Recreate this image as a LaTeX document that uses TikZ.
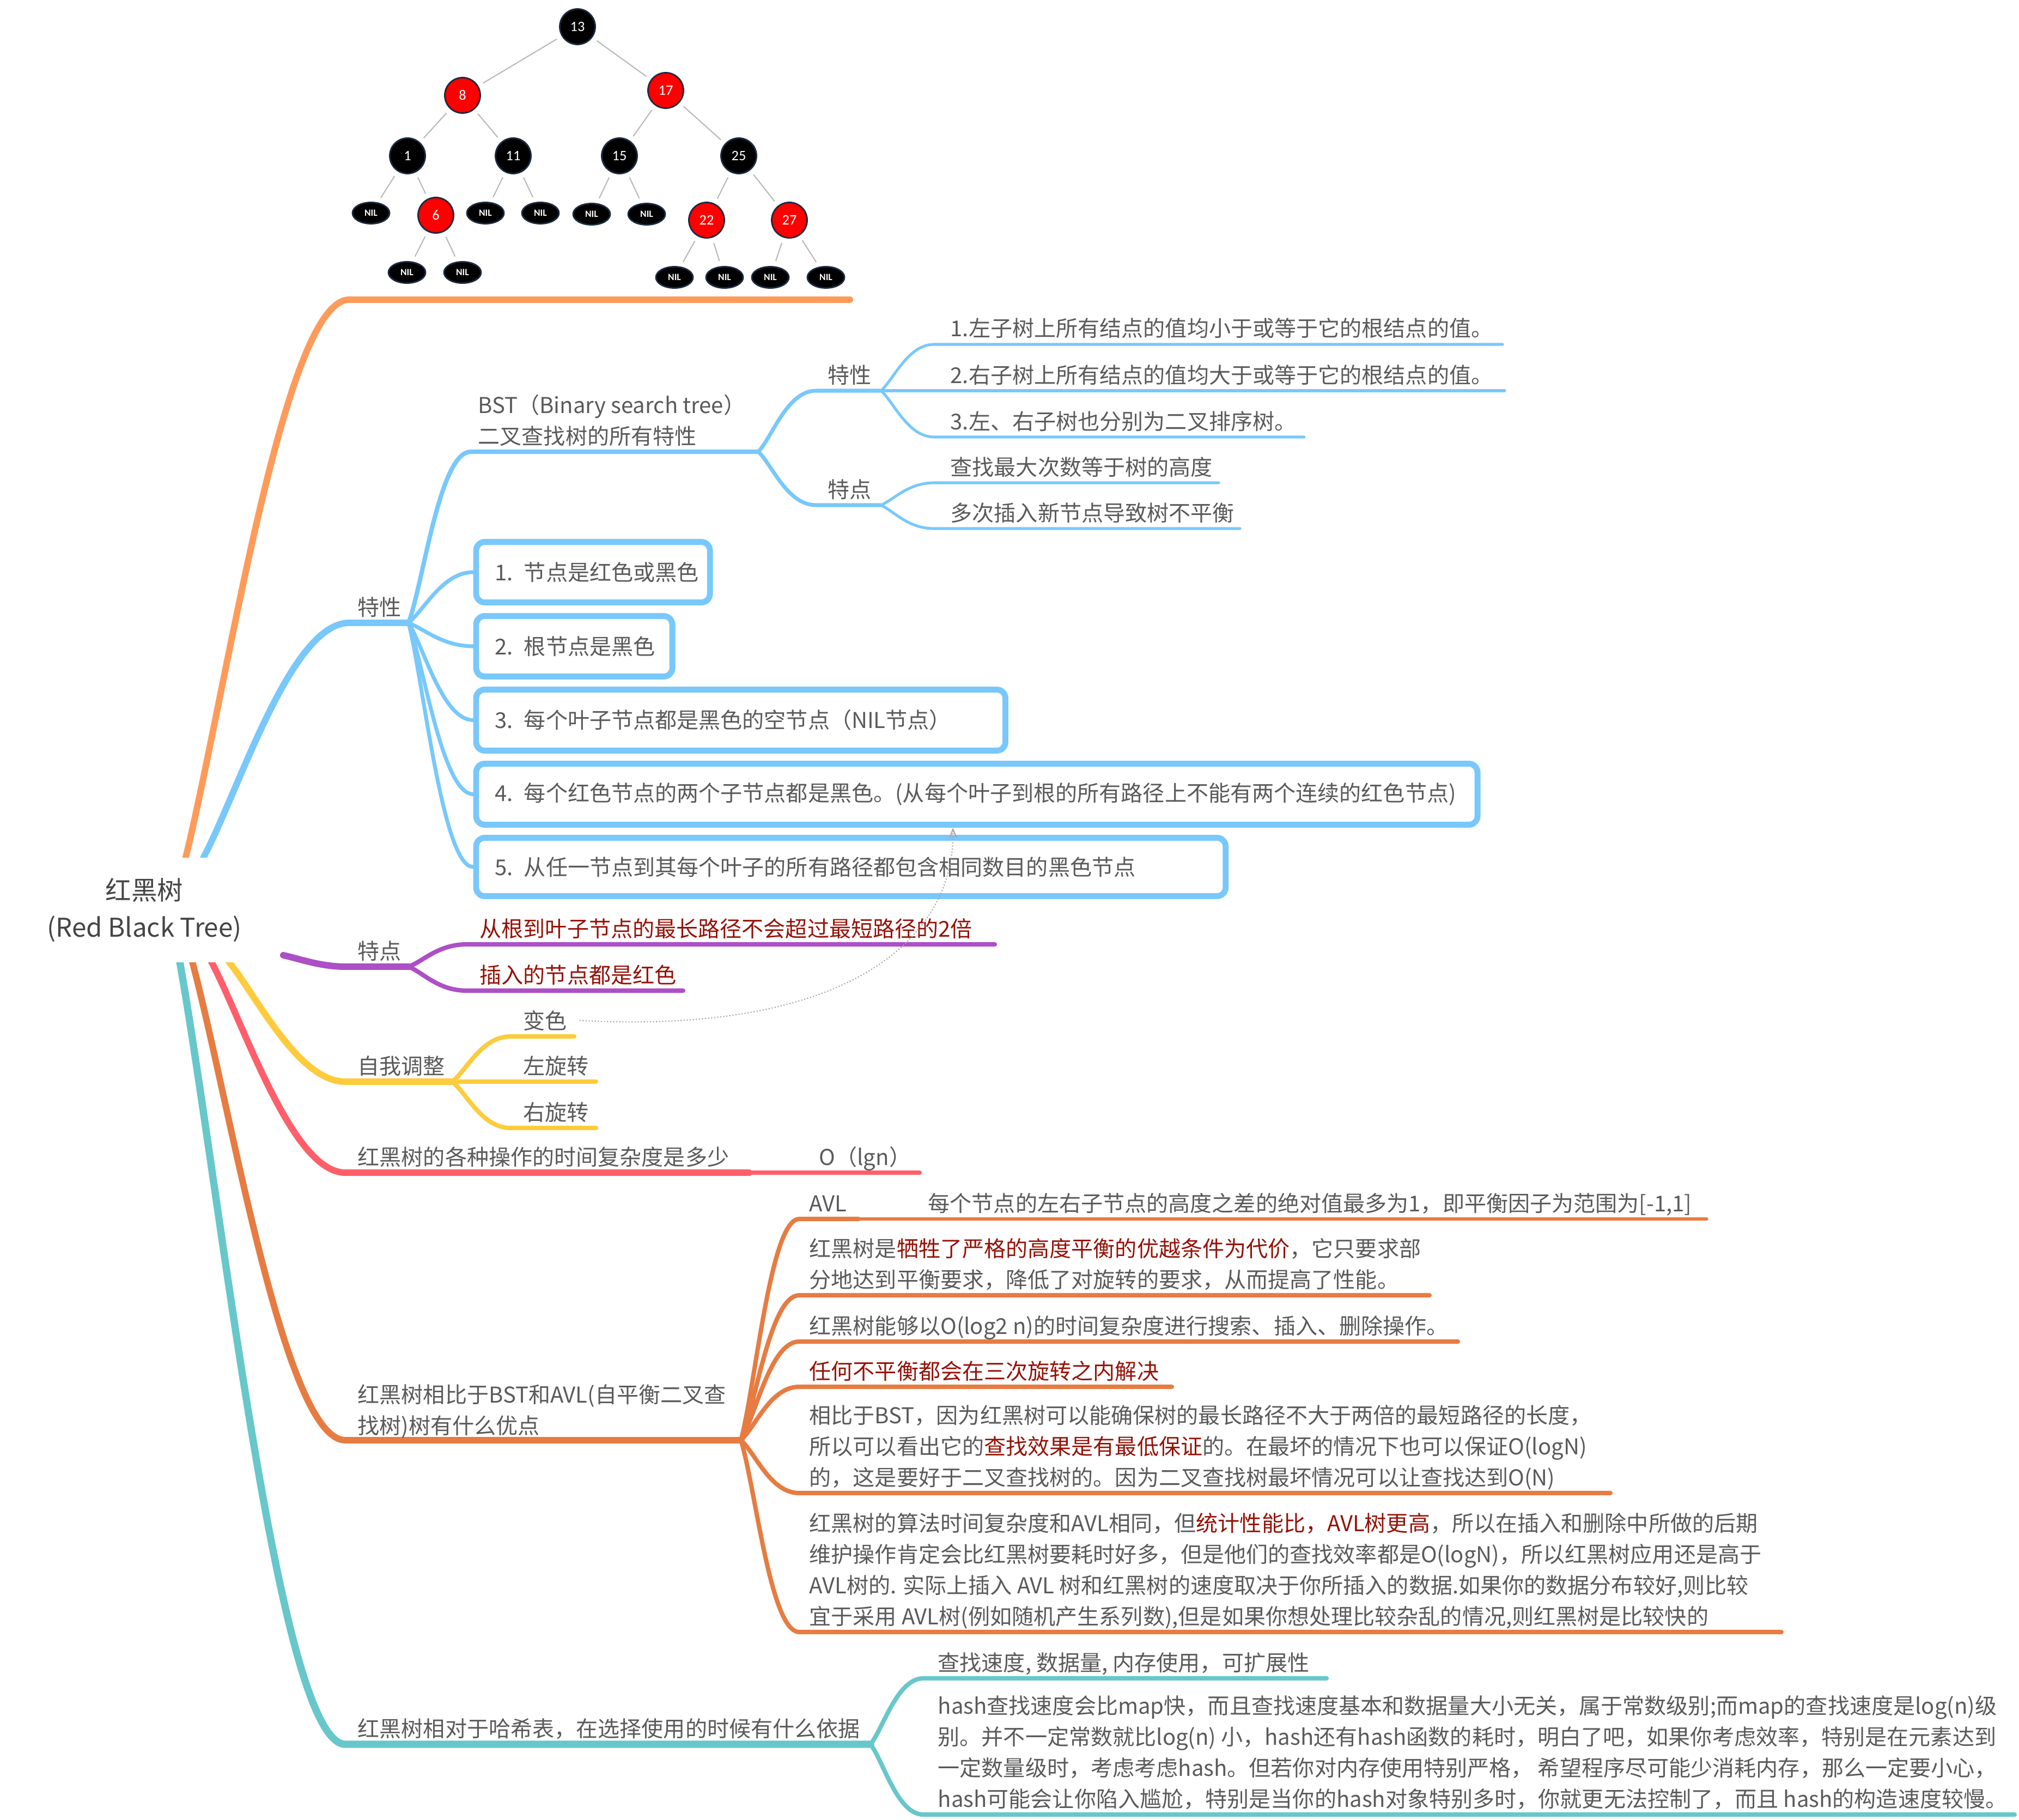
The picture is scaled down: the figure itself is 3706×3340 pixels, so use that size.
\documentclass[tikz,border=0pt]{standalone}
\usepackage{fontspec}
\newfontfamily\cjk{Noto Sans CJK SC}
\newfontfamily\treefont{Carlito}
\usetikzlibrary{shapes.geometric,arrows.meta}
\definecolor{txtgray}{HTML}{5A5A5A}
\definecolor{roottxt}{HTML}{454545}
\definecolor{redtxt}{HTML}{941208}
\definecolor{cOrange}{HTML}{FF9B5A}
\definecolor{cBlue}{HTML}{78C8FC}
\definecolor{cPurple}{HTML}{AD4FC6}
\definecolor{cYellow}{HTML}{FECB3C}
\definecolor{cRed}{HTML}{FF5F6A}
\definecolor{cDorange}{HTML}{E67C42}
\definecolor{cTeal}{HTML}{67C7CB}
\definecolor{nodeRed}{HTML}{FF0000}
\definecolor{rim}{HTML}{1C2A40}
\tikzset{
  txt/.style={font=\cjk\fontsize{11.4pt}{16pt}\selectfont, text=txtgray, inner sep=0pt, anchor=base west, yshift=-0.04cm},
  rtxt/.style={txt, text=redtxt},
  br1/.style={line width=3.4pt, line cap=round},
  br2/.style={line width=2.3pt, line cap=round},
  brm/.style={line width=2.0pt, line cap=round},
  br3/.style={line width=1.45pt, line cap=round},
  pbox/.style={draw=cBlue, line width=3.1pt, rounded corners=0.16cm, fill=white, anchor=west,
     inner xsep=0.345cm, inner ysep=0pt, align=left, text=txtgray,
     font=\cjk\fontsize{11.4pt}{16pt}\selectfont},
  rootnode/.style={fill=white, inner sep=0pt, align=center, text=roottxt,
     font=\cjk\fontsize{13.5pt}{19.3pt}\selectfont},
  tnode/.style={circle, fill=black, draw=rim, line width=0.8pt, minimum size=0.65cm, inner sep=0pt,
     text=white, font=\treefont\fontsize{7.5pt}{8pt}\selectfont},
  rnode/.style={tnode, fill=nodeRed},
  nilnode/.style={ellipse, fill=black, draw=rim, line width=0.8pt, minimum width=0.68cm,
     minimum height=0.39cm, inner sep=0pt, text=white, font=\treefont\bfseries\fontsize{5pt}{5pt}\selectfont},
  tedge/.style={draw=gray!55, line width=0.6pt, shorten <=0.1cm, shorten >=0.1cm},
  hint/.style={draw=gray!70, line width=0.6pt, densely dotted, -{Straight Barb[length=0.16cm,width=0.13cm]}},
}
\begin{document}
\begin{tikzpicture}[x=0.01cm, y=-0.01cm]
\useasboundingbox (0,0) rectangle (3706,3340);

% ---------------- tree picture ----------------
\node[tnode] (n13) at (1060,49) {13};
\node[rnode] (n8) at (849,175) {8};
\node[rnode] (n17) at (1222,166) {17};
\node[tnode] (n1) at (748,286) {1};
\node[tnode] (n11) at (942,286) {11};
\node[tnode] (n15) at (1137,286) {15};
\node[tnode] (n25) at (1356,286) {25};
\node[nilnode] (l1) at (681,391) {NIL};
\node[rnode] (n6) at (800,395) {6};
\node[nilnode] (l2) at (891,391) {NIL};
\node[nilnode] (l3) at (992,391) {NIL};
\node[nilnode] (l4) at (1086,393) {NIL};
\node[nilnode] (l5) at (1187,393) {NIL};
\node[rnode] (n22) at (1297,404) {22};
\node[rnode] (n27) at (1449,404) {27};
\node[nilnode] (l6) at (747,500) {NIL};
\node[nilnode] (l7) at (849,500) {NIL};
\node[nilnode] (l8) at (1238,509) {NIL};
\node[nilnode] (l9) at (1330,509) {NIL};
\node[nilnode] (l10) at (1414,509) {NIL};
\node[nilnode] (l11) at (1516,509) {NIL};
\draw[tedge] (n13) -- (n8);
\draw[tedge] (n13) -- (n17);
\draw[tedge] (n8) -- (n1);
\draw[tedge] (n8) -- (n11);
\draw[tedge] (n17) -- (n15);
\draw[tedge] (n17) -- (n25);
\draw[tedge] (n1) -- (l1);
\draw[tedge] (n1) -- (n6);
\draw[tedge] (n11) -- (l2);
\draw[tedge] (n11) -- (l3);
\draw[tedge] (n15) -- (l4);
\draw[tedge] (n15) -- (l5);
\draw[tedge] (n25) -- (n22);
\draw[tedge] (n25) -- (n27);
\draw[tedge] (n6) -- (l6);
\draw[tedge] (n6) -- (l7);
\draw[tedge] (n22) -- (l8);
\draw[tedge] (n22) -- (l9);
\draw[tedge] (n27) -- (l10);
\draw[tedge] (n27) -- (l11);

% ---------------- main branches ----------------
\coordinate (oS) at (330,1619); \coordinate (oA) at (341,1573); \coordinate (oC) at (641,550); \coordinate (oE) at (1560,550);
\draw[br1, cOrange] (oS) -- (oA) .. controls (416,1266) and (521,550) .. (oC) -- (oE);

\coordinate (bS) at (355,1610); \coordinate (bA) at (375,1571); \coordinate (bC) at (641,1143); \coordinate (bE) at (750,1143);
\draw[br1, cBlue] (bS) -- (bA) .. controls (441,1443) and (535,1143) .. (bC) -- (bE);

\coordinate (pA) at (520,1753); \coordinate (pC) at (634,1774); \coordinate (pE) at (750,1774);
\draw[br1, cPurple] (pA) .. controls (548,1759) and (588,1774) .. (pC) -- (pE);

\coordinate (yS) at (388,1725); \coordinate (yA) at (420,1765); \coordinate (yC) at (634,1985); \coordinate (yE) at (830,1985);
\draw[br1, cYellow] (yS) -- (yA) .. controls (473,1831) and (548,1985) .. (yC) -- (yE);

\coordinate (rS) at (366,1724); \coordinate (rA) at (388,1765); \coordinate (rC) at (634,2152); \coordinate (rE) at (1375,2152);
\draw[br1, cRed] (rS) -- (rA) .. controls (449,1881) and (536,2152) .. (rC) -- (rE);

\coordinate (dS) at (342,1726); \coordinate (dA) at (353,1765); \coordinate (dC) at (634,2643); \coordinate (dE) at (1360,2643);
\draw[br1, cDorange] (dS) -- (dA) .. controls (423,2028) and (522,2643) .. (dC) -- (dE);

\coordinate (tS) at (322,1722); \coordinate (tA) at (330,1765); \coordinate (tC) at (634,3201); \coordinate (tE) at (1598,3201);
\draw[line width=3.8pt, line cap=round, cTeal] (tS) -- (tA) .. controls (406,2196) and (512,3201) .. (tC) -- (tE);

% root
\node[rootnode, minimum width=4.2cm, minimum height=1.92cm] (root) at (265,1670) {红黑树\\(Red Black Tree)};

% ---------------- blue: 特性 ----------------
\node[txt] (tx) at (656,1125) {特性};
\coordinate (bstC) at (864,829); \coordinate (bstE) at (1392,829);
\draw[br2, cBlue] (bE) .. controls +(28,-78) and +(-57,0) .. (bstC) -- (bstE);
\node[txt] (bst1) at (877,754) {BST（Binary search tree）};
\node[txt] (bst2) at (877,811) {二叉查找树的所有特性};

\coordinate (sxC) at (1498,717); \coordinate (sxE) at (1617,717);
\draw[brm, cBlue] (bstE) .. controls +(26,-28) and +(-53,0) .. (sxC) -- (sxE);
\node[txt] (sx) at (1519,699) {特性};
\coordinate (sdC) at (1498,927); \coordinate (sdE) at (1617,927);
\draw[brm, cBlue] (bstE) .. controls +(26,25) and +(-53,0) .. (sdC) -- (sdE);
\node[txt] (sd) at (1519,909) {特点};

\coordinate (i1C) at (1715,632); \coordinate (i1E) at (2758,632);
\draw[br3, cBlue] (sxE) .. controls +(24,-21) and +(-49,0) .. (i1C) -- (i1E);
\node[txt] (i1) at (1744,614) {1.左子树上所有结点的值均小于或等于它的根结点的值。};
\coordinate (i2E) at (2762,717);
\draw[br3, cBlue] (sxE) -- (i2E);
\node[txt] (i2) at (1744,699) {2.右子树上所有结点的值均大于或等于它的根结点的值。};
\coordinate (i3C) at (1715,802); \coordinate (i3E) at (2394,802);
\draw[br3, cBlue] (sxE) .. controls +(24,21) and +(-49,0) .. (i3C) -- (i3E);
\node[txt] (i3) at (1744,784) {3.左、右子树也分别为二叉排序树。};

\coordinate (j1C) at (1715,886); \coordinate (j1E) at (2237,886);
\draw[br3, cBlue] (sdE) .. controls +(24,-10) and +(-49,0) .. (j1C) -- (j1E);
\node[txt] (j1) at (1744,868) {查找最大次数等于树的高度};
\coordinate (j2C) at (1715,970); \coordinate (j2E) at (2276,970);
\draw[br3, cBlue] (sdE) .. controls +(24,11) and +(-49,0) .. (j2C) -- (j2E);
\node[txt] (j2) at (1744,952) {多次插入新节点导致树不平衡};

% boxes
\node[pbox, text width=3.60cm, minimum height=1.11cm] (p1) at (868.5,1050) {\mbox{1. 节点是红色或黑色}};
\node[pbox, text width=2.91cm, minimum height=1.11cm] (p2) at (868.5,1186) {\mbox{2. 根节点是黑色}};
\node[pbox, text width=9.02cm, minimum height=1.12cm] (p3) at (868.5,1321.5) {\mbox{3. 每个叶子节点都是黑色的空节点（NIL节点）}};
\node[pbox, text width=17.68cm, minimum height=1.12cm] (p4) at (868.5,1457.5) {\mbox{4. 每个红色节点的两个子节点都是黑色。(从每个叶子到根的所有路径上不能有两个连续的红色节点)}};
\node[pbox, text width=13.06cm, minimum height=1.07cm] (p5) at (868.5,1591) {\mbox{5. 从任一节点到其每个叶子的所有路径都包含相同数目的黑色节点}};
\draw[brm, cBlue] (bE) .. controls +(28,-23) and +(-56,0) .. (p1.west);
\draw[brm, cBlue] (bE) .. controls +(28,11) and +(-56,0) .. (p2.west);
\draw[brm, cBlue] (bE) .. controls +(28,45) and +(-56,0) .. (p3.west);
\draw[brm, cBlue] (bE) .. controls +(28,79) and +(-56,0) .. (p4.west);
\draw[brm, cBlue] (bE) .. controls +(28,112) and +(-56,0) .. (p5.west);

% ---------------- purple: 特点 ----------------
\node[txt] (td) at (656,1756) {特点};
\coordinate (k1C) at (857,1733); \coordinate (k1E) at (1826,1733);
\draw[br2, cPurple] (pE) .. controls +(27,-10) and +(-53,0) .. (k1C) -- (k1E);
\node[rtxt] (k1) at (880,1715) {从根到叶子节点的最长路径不会超过最短路径的2倍};
\coordinate (k2C) at (857,1818); \coordinate (k2E) at (1254,1818);
\draw[br2, cPurple] (pE) .. controls +(27,11) and +(-53,0) .. (k2C) -- (k2E);
\node[rtxt] (k2) at (880,1800) {插入的节点都是红色};

% ---------------- yellow: 自我调整 ----------------
\node[txt] (zw) at (656,1967) {自我调整};
\coordinate (y1C) at (937,1902); \coordinate (y1E) at (1054,1902);
\draw[br2, cYellow] (yE) .. controls +(27,-21) and +(-53,0) .. (y1C) -- (y1E);
\node[txt] (y1) at (960,1884) {变色};
\coordinate (y2E) at (1094,1985);
\draw[br2, cYellow] (yE) -- (y2E);
\node[txt] (y2) at (960,1967) {左旋转};
\coordinate (y3C) at (937,2070); \coordinate (y3E) at (1094,2070);
\draw[br2, cYellow] (yE) .. controls +(27,21) and +(-53,0) .. (y3C) -- (y3E);
\node[txt] (y3) at (960,2052) {右旋转};

% ---------------- red: complexity ----------------
\node[txt] (ops) at (656,2134) {红黑树的各种操作的时间复杂度是多少};
\coordinate (olE) at (1688,2152);
\draw[br2, cRed] (rE) -- (olE);
\node[txt] (olg) at (1503,2134) {O（lgn）};

% ---------------- dark orange: compare ----------------
\node[txt] (cm1) at (656,2570) {红黑树相比于BST和AVL(自平衡二叉查};
\node[txt] (cm2) at (656,2627) {找树)树有什么优点};

\coordinate (avC) at (1467,2237); \coordinate (avE) at (1576,2237); \coordinate (avD) at (3133,2237);
\draw[br2, cDorange] (dE) .. controls +(27,-101) and +(-53,0) .. (avC) -- (avE);
\draw[br3, cDorange] (avE) -- (avD);
\node[txt] (avl) at (1485,2219) {AVL};
\node[txt] (avld) at (1703,2219) {每个节点的左右子节点的高度之差的绝对值最多为1，即平衡因子为范围为[-1,1]};

\coordinate (s1C) at (1467,2377); \coordinate (s1E) at (2624,2377);
\draw[br2, cDorange] (dE) .. controls +(27,-66) and +(-53,0) .. (s1C) -- (s1E);
\node[txt] (s1) at (1485,2302) {红黑树是\textcolor{redtxt}{牺牲了严格的高度平衡的优越条件为代价}，它只要求部};
\node[txt] (s2) at (1485,2359) {分地达到平衡要求，降低了对旋转的要求，从而提高了性能。};

\coordinate (lgC) at (1467,2462); \coordinate (lgE) at (2676,2462);
\draw[br2, cDorange] (dE) .. controls +(27,-45) and +(-53,0) .. (lgC) -- (lgE);
\node[txt] (lg) at (1485,2444) {红黑树能够以O(log2 n)的时间复杂度进行搜索、插入、删除操作。};

\coordinate (rtC) at (1467,2545); \coordinate (rtE) at (2151,2545);
\draw[br2, cDorange] (dE) .. controls +(27,-25) and +(-53,0) .. (rtC) -- (rtE);
\node[rtxt] (rot) at (1485,2527) {任何不平衡都会在三次旋转之内解决};

\coordinate (b0C) at (1467,2740); \coordinate (b0E) at (2956,2740);
\draw[br2, cDorange] (dE) .. controls +(27,24) and +(-53,0) .. (b0C) -- (b0E);
\node[txt] (b1) at (1485,2608) {相比于BST，因为红黑树可以能确保树的最长路径不大于两倍的最短路径的长度，};
\node[txt] (b2) at (1485,2665) {所以可以看出它的\textcolor{redtxt}{查找效果是有最低保证}的。在最坏的情况下也可以保证O(logN)};
\node[txt] (b3) at (1485,2722) {的，这是要好于二叉查找树的。因为二叉查找树最坏情况可以让查找达到O(N)};

\coordinate (a0C) at (1467,2995); \coordinate (a0E) at (3270,2995);
\draw[br2, cDorange] (dE) .. controls +(27,88) and +(-53,0) .. (a0C) -- (a0E);
\node[txt] (a1) at (1485,2806) {红黑树的算法时间复杂度和AVL相同，但\textcolor{redtxt}{统计性能比，AVL树更高}，所以在插入和删除中所做的后期};
\node[txt] (a2) at (1485,2863) {维护操作肯定会比红黑树要耗时好多，但是他们的查找效率都是O(logN)，所以红黑树应用还是高于};
\node[txt] (a3) at (1485,2920) {AVL树的. 实际上插入 AVL 树和红黑树的速度取决于你所插入的数据.如果你的数据分布较好,则比较};
\node[txt] (a4) at (1485,2977) {宜于采用 AVL树(例如随机产生系列数),但是如果你想处理比较杂乱的情况,则红黑树是比较快的};

% ---------------- teal: hash ----------------
\node[txt] (hs) at (656,3183) {红黑树相对于哈希表，在选择使用的时候有什么依据};
\coordinate (h0C) at (1695,3080); \coordinate (h0E) at (2435,3080);
\draw[br2, cTeal] (tE) .. controls +(24,-31) and +(-48,0) .. (h0C) -- (h0E);
\node[txt] (h0) at (1721,3062) {查找速度, 数据量, 内存使用，可扩展性};
\coordinate (hpC) at (1695,3330); \coordinate (hpE) at (3698,3330);
\draw[br2, cTeal] (tE) .. controls +(24,32) and +(-48,0) .. (hpC) -- (hpE);
\node[txt] (h1) at (1721,3141) {hash查找速度会比map快，而且查找速度基本和数据量大小无关，属于常数级别;而map的查找速度是log(n)级};
\node[txt] (h2) at (1721,3198) {别。并不一定常数就比log(n) 小，hash还有hash函数的耗时，明白了吧，如果你考虑效率，特别是在元素达到};
\node[txt] (h3) at (1721,3255) {一定数量级时，考虑考虑hash。但若你对内存使用特别严格， 希望程序尽可能少消耗内存，那么一定要小心，};
\node[txt] (h4) at (1721,3312) {hash可能会让你陷入尴尬，特别是当你的hash对象特别多时，你就更无法控制了，而且 hash的构造速度较慢。};

% ---------------- dotted hint arrow ----------------
\draw[hint] ([xshift=0.22cm]y1.east) .. controls (1560,1900) and (1755,1720) .. (1749,0 |- p4.south);
\end{tikzpicture}
\end{document}
